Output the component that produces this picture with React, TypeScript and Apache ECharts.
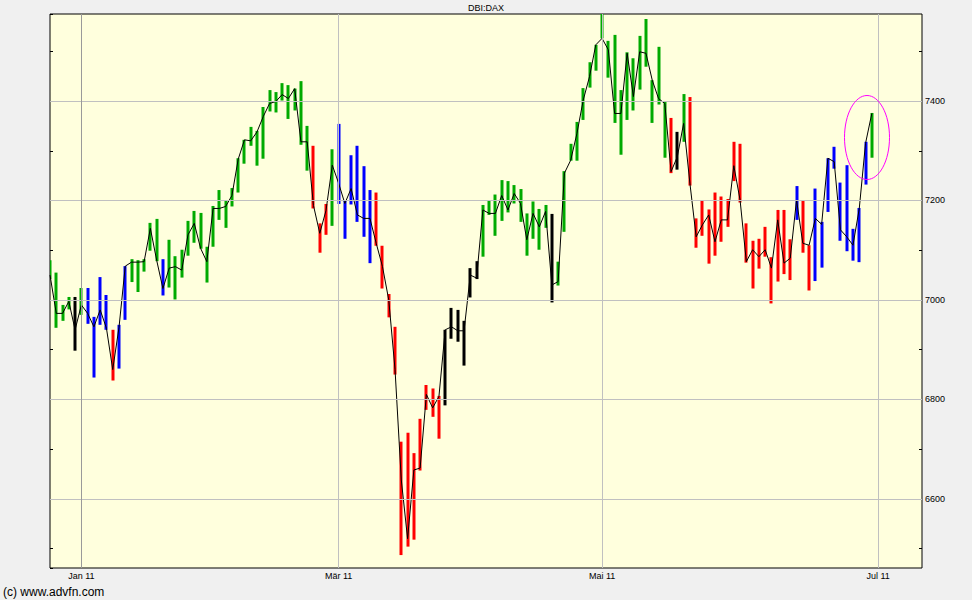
import React, { useEffect, useRef } from "react";
import * as echarts from "echarts";

// Trading days shown (Xetra), Dec 23 2010 .. Jun 30 2011
const dates: string[] = [
  "2010-12-23", "2010-12-27", "2010-12-28", "2010-12-29", "2010-12-30",
  "2011-01-03", "2011-01-04", "2011-01-05", "2011-01-06", "2011-01-07", "2011-01-10", "2011-01-11", "2011-01-12", "2011-01-13", "2011-01-14",
  "2011-01-17", "2011-01-18", "2011-01-19", "2011-01-20", "2011-01-21", "2011-01-24", "2011-01-25", "2011-01-26", "2011-01-27", "2011-01-28", "2011-01-31",
  "2011-02-01", "2011-02-02", "2011-02-03", "2011-02-04", "2011-02-07", "2011-02-08", "2011-02-09", "2011-02-10", "2011-02-11", "2011-02-14",
  "2011-02-15", "2011-02-16", "2011-02-17", "2011-02-18", "2011-02-21", "2011-02-22", "2011-02-23", "2011-02-24", "2011-02-25", "2011-02-28",
  "2011-03-01", "2011-03-02", "2011-03-03", "2011-03-04", "2011-03-07", "2011-03-08", "2011-03-09", "2011-03-10", "2011-03-11", "2011-03-14",
  "2011-03-15", "2011-03-16", "2011-03-17", "2011-03-18", "2011-03-21", "2011-03-22", "2011-03-23", "2011-03-24", "2011-03-25", "2011-03-28",
  "2011-03-29", "2011-03-30", "2011-03-31",
  "2011-04-01", "2011-04-04", "2011-04-05", "2011-04-06", "2011-04-07", "2011-04-08", "2011-04-11", "2011-04-12", "2011-04-13", "2011-04-14",
  "2011-04-15", "2011-04-18", "2011-04-19", "2011-04-20", "2011-04-21", "2011-04-26", "2011-04-27", "2011-04-28", "2011-04-29",
  "2011-05-02", "2011-05-03", "2011-05-04", "2011-05-05", "2011-05-06", "2011-05-09", "2011-05-10", "2011-05-11", "2011-05-12", "2011-05-13",
  "2011-05-16", "2011-05-17", "2011-05-18", "2011-05-19", "2011-05-20", "2011-05-23", "2011-05-24", "2011-05-25", "2011-05-26", "2011-05-27",
  "2011-05-30", "2011-05-31",
  "2011-06-01", "2011-06-02", "2011-06-03", "2011-06-06", "2011-06-07", "2011-06-08", "2011-06-09", "2011-06-10", "2011-06-13", "2011-06-14",
  "2011-06-15", "2011-06-16", "2011-06-17", "2011-06-20", "2011-06-21", "2011-06-22", "2011-06-23", "2011-06-24", "2011-06-27", "2011-06-28",
  "2011-06-29", "2011-06-30",
];
// Empty trading days after the data (right margin of the axis)
const futureDates: string[] = [
  "2011-07-01", "2011-07-04", "2011-07-05", "2011-07-06", "2011-07-07", "2011-07-08", "2011-07-11", "2011-07-12",
];

const highs: number[] = [
  7080, 7055, 6990, 7006, 7006, 7024, 7024, 6966, 7046, 7010,
  6940, 6950, 7068, 7082, 7080, 7082, 7155, 7163, 7082, 7121,
  7088, 7101, 7159, 7179, 7175, 7107, 7189, 7221, 7201, 7225,
  7285, 7322, 7348, 7340, 7388, 7422, 7418, 7436, 7432, 7425,
  7440, 7350, 7310, 7154, 7193, 7303, 7354, 7201, 7291, 7310,
  7269, 7221, 7216, 7109, 7012, 6946, 6715, 6733, 6692, 6761,
  6829, 6822, 6807, 6940, 6984, 6980, 6958, 7064, 7078, 7191,
  7199, 7212, 7241, 7239, 7231, 7223, 7174, 7198, 7183, 7191,
  7173, 7077, 7259, 7314, 7358, 7426, 7478, 7513, 7590, 7521,
  7533, 7422, 7498, 7486, 7531, 7565, 7442, 7509, 7400, 7366,
  7338, 7414, 7408, 7164, 7201, 7182, 7216, 7208, 7203, 7318,
  7314, 7154, 7119, 7123, 7147, 7086, 7181, 7181, 7122, 7229,
  7201, 7110, 7224, 7157, 7285, 7308, 7236, 7271, 7143, 7185,
  7318, 7376,
];
const lows: number[] = [
  7042, 6944, 6958, 6981, 6898, 6970, 6952, 6844, 6950, 6940,
  6838, 6862, 6960, 7036, 7016, 7057, 7099, 7078, 7009, 7025,
  7001, 7045, 7089, 7115, 7103, 7035, 7107, 7161, 7145, 7188,
  7216, 7274, 7310, 7270, 7284, 7379, 7377, 7401, 7364, 7381,
  7312, 7260, 7184, 7095, 7131, 7149, 7193, 7123, 7192, 7157,
  7127, 7074, 7109, 7023, 6965, 6850, 6487, 6504, 6518, 6657,
  6779, 6765, 6721, 6788, 6922, 6916, 6868, 7005, 7042, 7087,
  7171, 7129, 7159, 7176, 7194, 7157, 7089, 7123, 7101, 7145,
  6995, 7029, 7137, 7280, 7280, 7362, 7427, 7461, 7526, 7447,
  7356, 7292, 7362, 7381, 7423, 7469, 7356, 7393, 7286, 7255,
  7262, 7318, 7230, 7105, 7129, 7073, 7089, 7117, 7147, 7239,
  7196, 7075, 7023, 7063, 7087, 6993, 7037, 7052, 7040, 7161,
  7095, 7019, 7038, 7065, 7177, 7264, 7119, 7098, 7079, 7076,
  7232, 7286,
];
const closes: number[] = [
  7050, 6973, 6973, 6997, 6940, 6990, 6973, 6946, 6980, 6943,
  6860, 6945, 7068, 7076, 7076, 7077, 7144, 7080, 7023, 7064,
  7067, 7060, 7131, 7154, 7104, 7077, 7184, 7184, 7188, 7210,
  7283, 7322, 7320, 7338, 7369, 7395, 7399, 7413, 7405, 7425,
  7318, 7318, 7190, 7134, 7180, 7271, 7235, 7194, 7224, 7171,
  7164, 7164, 7114, 7067, 7000, 6860, 6638, 6520, 6658, 6662,
  6810, 6783, 6806, 6940, 6946, 6938, 6938, 7050, 7044, 7181,
  7174, 7174, 7210, 7181, 7214, 7194, 7121, 7174, 7147, 7178,
  7030, 7037, 7255, 7281, 7335, 7402, 7449, 7513, 7526, 7503,
  7375, 7375, 7496, 7409, 7499, 7496, 7442, 7405, 7395, 7258,
  7288, 7355, 7235, 7127, 7151, 7171, 7117, 7161, 7161, 7270,
  7201, 7077, 7101, 7087, 7101, 7064, 7161, 7074, 7084, 7201,
  7114, 7110, 7164, 7152, 7285, 7278, 7141, 7127, 7110, 7184,
  7315, 7375,
];
// bar colour class: g = green, b = blue, r = red, k = black
const barClasses: string[] = [
  "g", "g", "g", "g", "k", "g", "b", "b", "b", "b",
  "r", "b", "b", "g", "g", "g", "g", "g", "b", "g",
  "g", "g", "g", "g", "g", "g", "g", "g", "g", "g",
  "g", "g", "g", "g", "g", "g", "g", "g", "g", "g",
  "g", "g", "r", "r", "r", "g", "b", "b", "b", "b",
  "b", "b", "r", "r", "r", "r", "r", "r", "r", "r",
  "r", "r", "r", "k", "k", "k", "k", "k", "k", "g",
  "g", "g", "g", "g", "g", "g", "g", "g", "g", "g",
  "k", "g", "g", "g", "g", "g", "g", "g", "g", "g",
  "g", "g", "g", "g", "g", "g", "g", "g", "g", "r",
  "k", "g", "r", "r", "r", "r", "r", "r", "r", "r",
  "r", "r", "r", "r", "r", "r", "r", "r", "r", "b",
  "r", "r", "b", "b", "b", "b", "b", "b", "b", "b",
  "b", "g",
];

const tickDates: string[] = ["2011-01-03", "2011-03-01", "2011-05-02", "2011-07-01"];
const tickLabels: string[] = ["Jan 11", "Mär 11", "Mai 11", "Jul 11"];
const yGridValues: number[] = [6600, 6800, 7000, 7200, 7400];
const chartTitle = "DBI:DAX";
const footerText = "(c) www.advfn.com";

const classColors: Record<string, string> = {
  g: "#00aa00",
  b: "#0000ff",
  r: "#ff0000",
  k: "#000000",
};

const FONT = '"Liberation Sans", Arial, sans-serif';

export default function App() {
  const ref = useRef<HTMLDivElement>(null);

  useEffect(() => {
    if (!ref.current) return;
    const chart = echarts.init(ref.current, undefined, { renderer: "svg" });
    const allDates = dates.concat(futureDates);
    const labelOf = (v: string) => {
      const k = tickDates.indexOf(v);
      return k >= 0 ? tickLabels[k] : "";
    };
    const yMin = 6461;
    const yMax = 7575;

    const option: any = {
      animation: false,
      backgroundColor: "#f0f0f0",
      title: {
        text: chartTitle,
        left: "center",
        top: 3,
        padding: 0,
        textStyle: { fontSize: 9, fontWeight: "normal", color: "#000", fontFamily: FONT },
      },
      grid: {
        left: 50,
        right: 50,
        top: 14,
        bottom: 32,
        show: true,
        backgroundColor: "#ffffdd",
        borderColor: "#000",
        borderWidth: 1,
      },
      xAxis: {
        type: "category",
        data: allDates,
        boundaryGap: false,
        axisLine: { show: false },
        axisTick: { show: false },
        splitLine: { show: false },
        axisLabel: {
          interval: (_i: number, v: string) => tickDates.indexOf(v) >= 0,
          formatter: (v: string) => labelOf(v),
          fontSize: 9,
          color: "#000",
          fontFamily: FONT,
          margin: 3,
        },
      },
      yAxis: [
        {
          type: "value",
          position: "right",
          min: yMin,
          max: yMax,
          minInterval: 100,
          maxInterval: 100,
          axisLine: { show: false },
          axisTick: { show: true, inside: true, length: 3, lineStyle: { color: "#000" } },
          splitLine: { show: false },
          axisLabel: {
            formatter: (v: number) => (Math.round(v) % 200 === 0 ? String(Math.round(v)) : ""),
            fontSize: 9,
            color: "#000",
            fontFamily: FONT,
            margin: 3,
            showMinLabel: false,
            showMaxLabel: false,
          },
        },
        {
          type: "value",
          position: "left",
          min: yMin,
          max: yMax,
          minInterval: 100,
          maxInterval: 100,
          axisLine: { show: false },
          axisTick: { show: true, inside: true, length: 3, lineStyle: { color: "#000" } },
          splitLine: { show: false },
          axisLabel: { show: false },
        },
      ],
      series: [
        {
          name: "grid",
          type: "line",
          data: closes,
          symbol: "none",
          lineStyle: { opacity: 0, width: 0 },
          silent: true,
          z: 1,
          markLine: {
            silent: true,
            symbol: ["none", "none"],
            label: { show: false },
            animation: false,
            lineStyle: { color: "#c0c0c0", type: "solid", width: 1 },
            data: [
              ...yGridValues.map((v) => ({ yAxis: v })),
              ...tickDates.map((d, k) => ({
                xAxis: d,
                lineStyle: { color: k === 0 ? "#9a9a9a" : "#c0c0c0", type: "solid", width: 1 },
              })),
            ],
          },
        },
        {
          name: "bars",
          type: "custom",
          clip: true,
          z: 2,
          data: dates.map((_d, i) => [i, lows[i], highs[i]]),
          encode: { x: 0, y: [1, 2] },
          renderItem: (params: any, api: any) => {
            const i = api.value(0);
            const top = api.coord([i, api.value(2)]);
            const bot = api.coord([i, api.value(1)]);
            const cls = barClasses[params.dataIndex];
            return {
              type: "rect",
              shape: {
                x: Math.round(top[0]) - 1.5,
                y: top[1],
                width: 3,
                height: Math.max(1, bot[1] - top[1]),
              },
              style: { fill: classColors[cls] },
            };
          },
        },
        {
          name: "close",
          type: "line",
          data: closes,
          symbol: "none",
          z: 3,
          lineStyle: { color: "#000", width: 1 },
        },
      ],
      graphic: [
        {
          type: "ellipse",
          shape: { cx: 867, cy: 137.5, rx: 22.5, ry: 42 },
          style: { fill: "none", stroke: "#ff00ff", lineWidth: 1 },
          z: 10,
        },
        {
          type: "text",
          left: 3,
          top: 586,
          style: { text: footerText, font: `12px ${FONT}`, fill: "#000" },
        },
      ],
    };

    chart.setOption(option);
    return () => chart.dispose();
  }, []);

  return (
    <div
      ref={ref}
      style={{ position: "absolute", left: 0, top: 0, width: 972, height: 600 }}
    />
  );
}
